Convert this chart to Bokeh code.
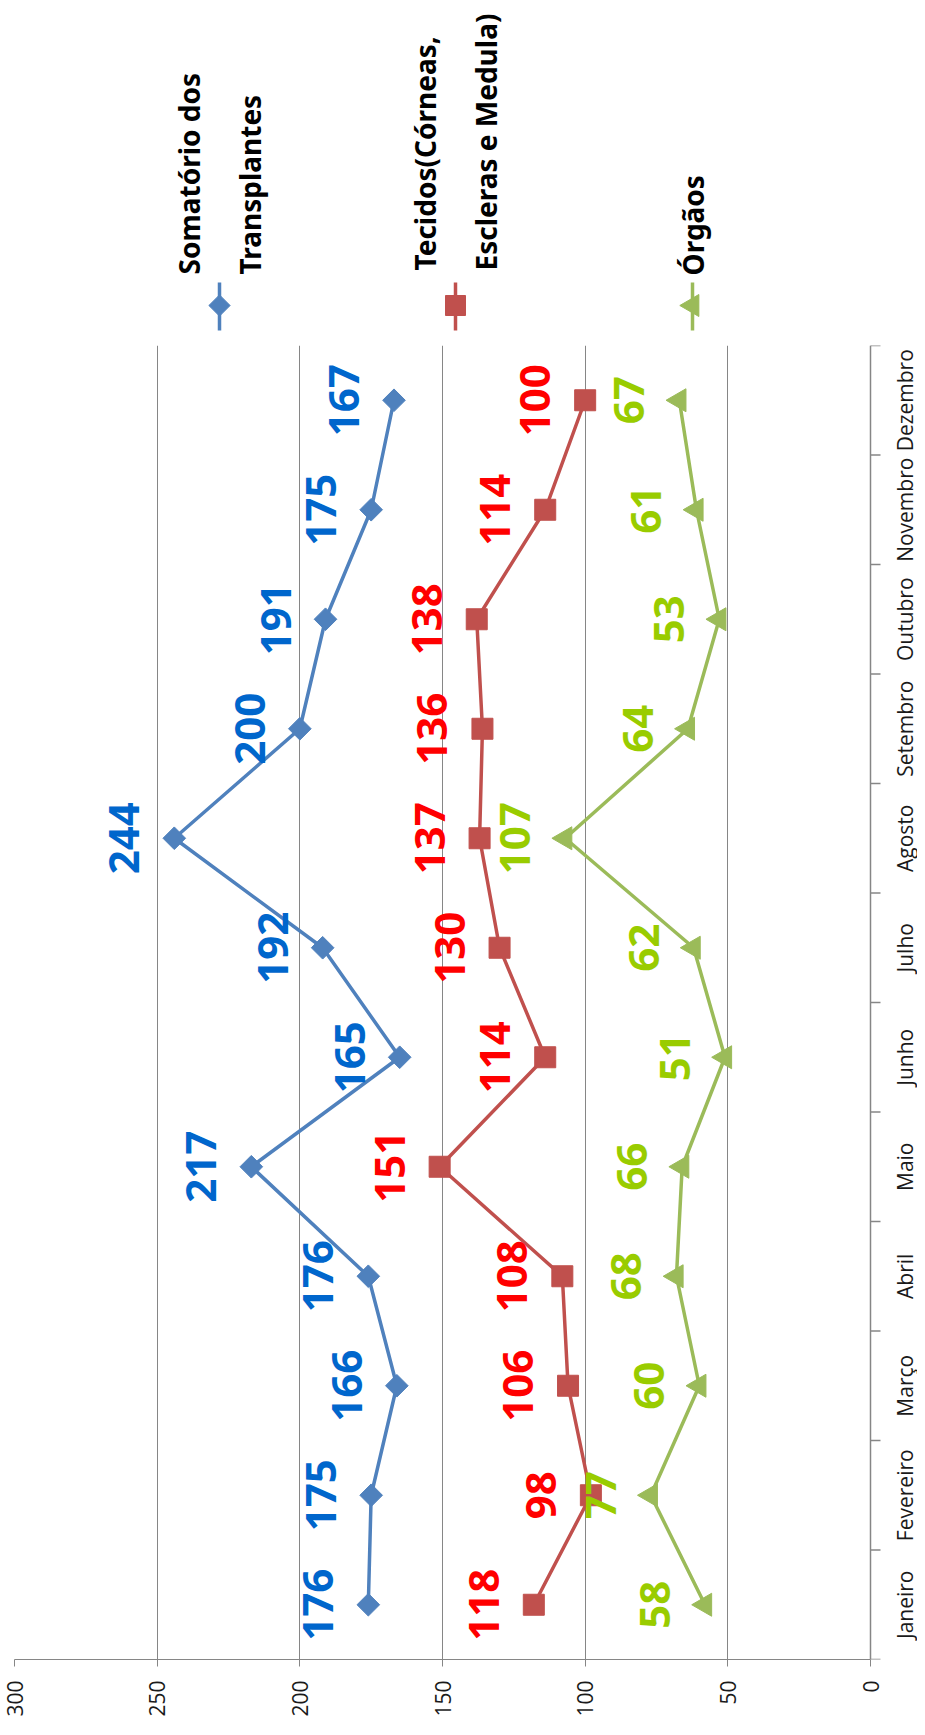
import math
from bokeh.plotting import figure
from bokeh.layouts import column
from bokeh.models import Range1d, FixedTicker, ColumnDataSource, Span
from bokeh.core.properties import value
from bokeh.embed import file_html
from bokeh.resources import INLINE

# ---------------- data ----------------
months = ["Janeiro", "Fevereiro", "Março", "Abril", "Maio", "Junho",
          "Julho", "Agosto", "Setembro", "Outubro", "Novembro", "Dezembro"]
somatorio = [176, 175, 166, 176, 217, 165, 192, 244, 200, 191, 175, 167]
tecidos = [118, 98, 106, 108, 151, 114, 130, 137, 136, 138, 114, 100]
orgaos = [58, 77, 60, 68, 66, 51, 62, 107, 64, 53, 61, 67]
series_text = ["Somatório dos\nTransplantes", "Tecidos(Córneas,\nEscleras e Medula)", "Órgãos"]
value_ticks = [0, 50, 100, 150, 200, 250, 300]

# ---------------- styles ----------------
line_colors = ["#4F81BD", "#C0504D", "#9BBB59"]
label_colors = ["#0066CC", "#FF0000", "#99CC00"]
markers = ["square", "square", "triangle"]
marker_angles = [math.pi / 4, 0, math.pi / 2]
marker_sizes = [16, 21, 23]
GRAY = "#868686"
W = 917
LEG_H = 345
MAIN_H = 1374
BL = 14            # left border (px)
PLOT_W = 856       # px covered by 0..300
RIGHT_PAD = W - BL - PLOT_W   # px to the right of the value 0, holds the month labels
vmin, vmax = value_ticks[0], value_ticks[-1]
per_px = (vmax - vmin) / PLOT_W

# ---------------- main chart ----------------
centers = [i + 0.5 for i in range(len(months))]
bounds = list(range(len(months) + 1))

p = figure(width=W, height=MAIN_H,
           x_range=Range1d(vmax, vmin - RIGHT_PAD * per_px),
           y_range=Range1d(0, len(months)), output_backend="svg", toolbar_location=None,
           y_axis_location=None, min_border_left=BL, min_border_right=0,
           min_border_top=0, min_border_bottom=60)
p.outline_line_color = None
p.background_fill_color = "white"
p.border_fill_color = "white"

xa = p.xaxis[0]
xa.ticker = FixedTicker(ticks=value_ticks)
xa.bounds = (vmin, vmax)
xa.major_label_orientation = math.pi / 2
xa.axis_line_color = GRAY
xa.major_tick_line_color = GRAY
xa.major_tick_out = 7
xa.major_tick_in = 0
xa.minor_tick_line_color = None
xa.major_label_text_font = "Open Sans"
xa.major_label_text_font_size = "21px"
xa.major_label_text_color = "#1a1a1a"
xa.major_label_standoff = 14

p.xgrid.grid_line_color = GRAY
p.xgrid.ticker = FixedTicker(ticks=value_ticks[1:])
p.ygrid.grid_line_color = None

# category axis (right of value 0): line, boundary ticks, centred rotated labels
p.add_layout(Span(location=vmin, dimension="height", line_color=GRAY, line_width=1.5))
p.segment(x0=[vmin] * len(bounds), y0=bounds, x1=[vmin - 10 * per_px] * len(bounds), y1=bounds,
          line_color=GRAY, line_width=1.5)
p.text(x=[vmin] * len(months), y=centers, text=months, angle=math.pi / 2, x_offset=34,
       text_align="center", text_baseline="middle", text_color="#1a1a1a",
       text_font=value("Open Sans"), text_font_size="21px")

for vals, lc, tc, mk, ma, ms in zip([somatorio, tecidos, orgaos], line_colors, label_colors,
                                    markers, marker_angles, marker_sizes):
    src = ColumnDataSource(dict(y=centers, v=vals, t=[str(v) for v in vals]))
    p.line("v", "y", source=src, line_color=lc, line_width=3.5)
    p.scatter("v", "y", source=src, marker=mk, angle=ma, size=ms,
              fill_color=lc, line_color=lc)
    p.text("v", "y", text="t", source=src, angle=math.pi / 2, x_offset=-50,
           text_align="center", text_baseline="middle", text_color=tc,
           text_font=value("Noto Sans"), text_font_size="42px", text_font_style="bold")

# ---------------- legend (rotated) ----------------
lg = figure(width=W, height=LEG_H, x_range=Range1d(BL, W),
            y_range=Range1d(LEG_H, 0), output_backend="svg", toolbar_location=None,
            x_axis_location=None, y_axis_location=None,
            min_border_left=BL, min_border_right=0, min_border_top=0, min_border_bottom=0)
lg.outline_line_color = None
lg.xgrid.grid_line_color = None
lg.ygrid.grid_line_color = None

lsrc = ColumnDataSource(dict(x=[219, 455, 692], t=series_text, c=line_colors, m=markers,
                             a=marker_angles, s=[15, 20, 22],
                             y0=[282] * 3, y1=[330] * 3, ym=[305] * 3, yt=[274, 270, 275]))
lg.segment(x0="x", y0="y0", x1="x", y1="y1", source=lsrc, line_color="c", line_width=3.5)
lg.scatter("x", "ym", source=lsrc, marker="m", angle="a", size="s", fill_color="c", line_color="c")
lg.text("x", "yt", text="t", source=lsrc, angle=math.pi / 2, text_align="left",
        text_baseline="middle", text_color="black", text_font=value("Noto Sans"),
        text_font_size="28px", text_font_style="bold", text_line_height=1.6)

layout = column(lg, p, spacing=0)
open("out.html", "w").write(file_html(layout, INLINE))
